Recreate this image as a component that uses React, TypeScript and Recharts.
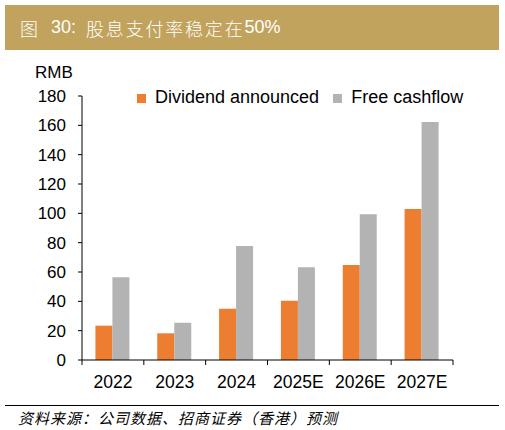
import React from 'react';
import { BarChart, Bar, XAxis, YAxis } from 'recharts';

const years = ['2022', '2023', '2024', '2025E', '2026E', '2027E'];
const dividend = [23.4, 18.2, 35.0, 40.4, 64.8, 102.9];
const freeCashflow = [56.4, 25.4, 77.7, 63.2, 99.3, 162.2];
const yTicks = [0, 20, 40, 60, 80, 100, 120, 140, 160, 180];
const seriesNames = ['Dividend announced', 'Free cashflow'];
const seriesColors = ['#ED7D31', '#B3B3B3'];

const data = years.map((year, i) => ({
  year,
  dividend: dividend[i],
  fcf: freeCashflow[i],
}));

const FONT = '"Liberation Sans", Arial, sans-serif';
const CJK = '"Noto Sans CJK SC", sans-serif';
const W = 505;
const ML = 82;
const MR = 52;
const BAND = (W - ML - MR) / years.length;

// x tick: label in the middle, tick marks at category boundaries
const XTick = ({ x, y, payload, index }: any) => (
  <g>
    <line x1={x - BAND / 2} y1={y} x2={x - BAND / 2} y2={y + 5} stroke="#000" />
    {index === years.length - 1 && (
      <line x1={x + BAND / 2} y1={y} x2={x + BAND / 2} y2={y + 5} stroke="#000" />
    )}
    <text x={x} y={y + 15.5} dy="0.71em" textAnchor="middle" fontSize={17.5} fill="#000" fontFamily={FONT}>
      {payload.value}
    </text>
  </g>
);

export default function App() {
  return (
    <div style={{ position: 'absolute', left: 0, top: 0, width: W, height: 430, background: '#fff', fontFamily: FONT }}>
      {/* header */}
      <div
        style={{
          position: 'absolute', left: 5, top: 5, width: 494, height: 45, background: '#C2A35E',
          color: '#fff', display: 'flex', alignItems: 'center', paddingLeft: 15, boxSizing: 'border-box',
          fontSize: 18,
        }}
      >
        <span style={{ fontFamily: CJK, fontWeight: 300 }}>图</span>
        <span style={{ fontFamily: FONT, marginLeft: 13 }}>30:</span>
        <span style={{ fontFamily: CJK, fontWeight: 300, marginLeft: 10, letterSpacing: 1.8 }}>股息支付率稳定在</span>
        <span style={{ fontFamily: FONT }}>50%</span>
      </div>

      <div style={{ position: 'absolute', left: 35, top: 62.5, fontSize: 17, color: '#000' }}>RMB</div>

      <div style={{ position: 'absolute', left: 0, top: 0 }}>
        <BarChart
          width={W}
          height={400}
          data={data}
          margin={{ top: 96, right: MR, left: 0, bottom: 10 }}
          barCategoryGap="21.7%"
          barGap={0}
        >
          <XAxis
            dataKey="year"
            height={30}
            axisLine={{ stroke: '#000' }}
            tickLine={false}
            tickSize={0}
            tickMargin={0}
            interval={0}
            tick={<XTick />}
          />
          <YAxis
            width={ML}
            domain={[0, 180]}
            ticks={yTicks}
            interval={0}
            axisLine={{ stroke: '#000' }}
            tickLine={{ stroke: '#000' }}
            tickSize={4}
            tickMargin={12}
            tick={{ fontSize: 17, fill: '#000', fontFamily: FONT }}
          />
          <Bar dataKey="dividend" name={seriesNames[0]} fill={seriesColors[0]} isAnimationActive={false} />
          <Bar dataKey="fcf" name={seriesNames[1]} fill={seriesColors[1]} isAnimationActive={false} />
        </BarChart>
      </div>

      {/* legend */}
      <div
        style={{
          position: 'absolute', left: 137, top: 88, display: 'flex', fontSize: 18, lineHeight: '18px', color: '#000',
        }}
      >
        {seriesNames.map((name, i) => (
          <div key={name} style={{ display: 'flex', alignItems: 'center', marginRight: 14 }}>
            <span style={{ width: 9, height: 9, background: seriesColors[i], display: 'inline-block', marginRight: 9, marginTop: 2 }} />
            <span>{name}</span>
          </div>
        ))}
      </div>

      {/* source */}
      <div style={{ position: 'absolute', left: 5, top: 405, width: 494, height: 1, background: '#000' }} />
      <div
        style={{
          position: 'absolute', left: 18, top: 407, fontFamily: CJK, fontStyle: 'italic', fontSize: 15,
          letterSpacing: 1, color: '#000', whiteSpace: 'nowrap',
        }}
      >
        资料来源：公司数据、招商证券（香港）预测
      </div>
    </div>
  );
}
